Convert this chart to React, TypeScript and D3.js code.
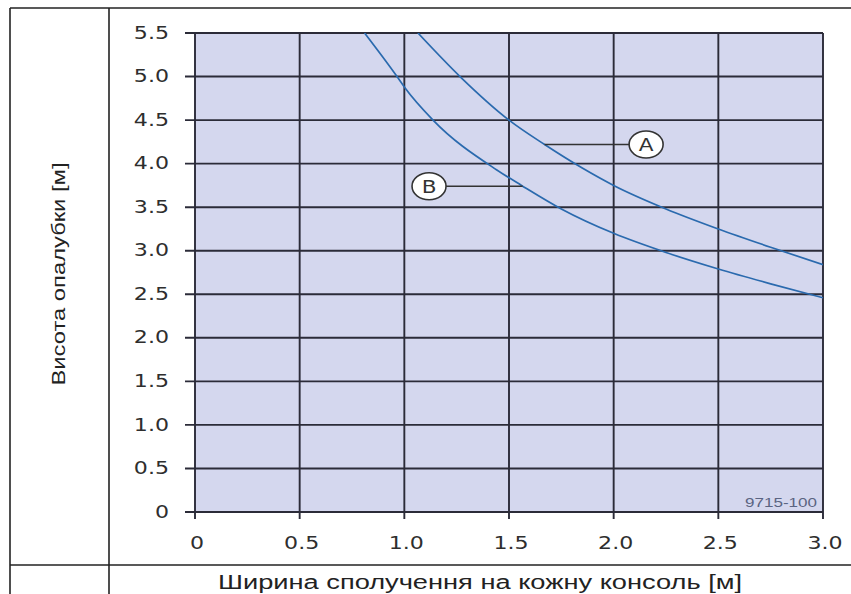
import React from 'react';
import * as d3 from 'd3';

const xTicks = [0, 0.5, 1, 1.5, 2, 2.5, 3];
const xTickLabels = ['0', '0.5', '1.0', '1.5', '2.0', '2.5', '3.0'];
const yTicks = [0, 0.5, 1, 1.5, 2, 2.5, 3, 3.5, 4, 4.5, 5, 5.5];
const yTickLabels = ['0', '0.5', '1.0', '1.5', '2.0', '2.5', '3.0', '3.5', '4.0', '4.5', '5.0', '5.5'];

const curveA: [number, number][] = [
  [1.065, 5.5], [1.266, 5.0], [1.5, 4.5], [1.67, 4.22], [1.85, 3.95], [2.0, 3.75],
  [2.25, 3.48], [2.5, 3.25], [2.75, 3.04], [3.0, 2.84],
];
const curveB: [number, number][] = [
  [0.81, 5.5], [0.965, 5.0], [1.0, 4.88], [1.137, 4.5], [1.44, 3.93], [1.56, 3.75],
  [1.75, 3.48], [2.0, 3.2], [2.25, 2.98], [2.5, 2.79], [2.75, 2.62], [3.0, 2.46],
];

const annotations = [
  { label: 'A', curveX: 1.67, curveY: 4.22, labelX: 2.155, labelY: 4.22 },
  { label: 'B', curveX: 1.565, curveY: 3.74, labelX: 1.118, labelY: 3.74 },
];

const yTitle = 'Висота опалубки [м]';
const xTitle = 'Ширина сполучення на кожну консоль [м]';
const figureCode = '9715-100';

export default function App() {
  const W = 851, H = 594;
  const x = d3.scaleLinear().domain([0, 3]).range([195, 823]);
  const y = d3.scaleLinear().domain([0, 5.5]).range([512, 33]);
  const line = d3.line<[number, number]>().x(d => x(d[0])).y(d => y(d[1])).curve(d3.curveMonotoneX);
  const gridColor = '#2b2b38';
  const textColor = '#2e2e2e';
  const digitFont = '"DejaVu Sans", Verdana, sans-serif';
  const rx = 17, ry = 13.5;

  return (
    <svg width={W} height={H} style={{ position: 'absolute', left: 0, top: 0, background: '#fff' }}>
      <defs>
        <clipPath id="plotClip">
          <rect x={x(0)} y={y(5.5)} width={x(3) - x(0)} height={y(0) - y(5.5)} />
        </clipPath>
      </defs>
      {/* table frame */}
      <g stroke="#222" strokeWidth={1.6}>
        <line x1={10} y1={8} x2={W} y2={8} />
        <line x1={10} y1={8} x2={10} y2={H} />
        <line x1={109} y1={8} x2={109} y2={H} />
        <line x1={10} y1={565} x2={W} y2={565} />
      </g>
      {/* plot background */}
      <rect x={x(0)} y={y(5.5)} width={x(3) - x(0)} height={y(0) - y(5.5)} fill="#d4d7ee" />
      {/* grid lines */}
      <g stroke={gridColor} strokeWidth={1.9}>
        {yTicks.map(t => (
          <line key={'gy' + t} x1={x(0) - 10} x2={x(3)} y1={y(t)} y2={y(t)} />
        ))}
        {xTicks.map(t => (
          <line key={'gx' + t} x1={x(t)} x2={x(t)} y1={y(5.5)} y2={y(0) + 7} />
        ))}
      </g>
      {/* y tick labels */}
      {yTicks.map((t, i) => (
        <text key={'yl' + t} transform={`translate(169,${y(t)}) scale(1.3,1)`} textAnchor="end"
          dominantBaseline="central" fontFamily={digitFont} fontSize={17} fill={textColor}>
          {yTickLabels[i]}
        </text>
      ))}
      {/* x tick labels */}
      {xTicks.map((t, i) => (
        <text key={'xl' + t} transform={`translate(${x(t) + 2},549) scale(1.3,1)`} textAnchor="middle"
          fontFamily={digitFont} fontSize={17} fill={textColor}>
          {xTickLabels[i]}
        </text>
      ))}
      {/* curves */}
      <g clipPath="url(#plotClip)" fill="none" stroke="#2a6aae" strokeWidth={1.7}>
        <path d={line(curveA) || ''} />
        <path d={line(curveB) || ''} />
      </g>
      {/* annotations */}
      {annotations.map(a => {
        const cx = x(a.labelX), cy = y(a.labelY);
        const px = x(a.curveX);
        const edge = px > cx ? cx + rx : cx - rx;
        return (
          <g key={a.label}>
            <line x1={px} x2={edge} y1={y(a.curveY)} y2={y(a.curveY)} stroke="#333" strokeWidth={1.6} />
            <ellipse cx={cx} cy={cy} rx={rx} ry={ry} fill="#fff" stroke="#333" strokeWidth={1.6} />
            <text transform={`translate(${cx},${cy + 0.5}) scale(1.2,1)`} textAnchor="middle" dominantBaseline="central"
              fontFamily={digitFont} fontSize={18} fill="#333">{a.label}</text>
          </g>
        );
      })}
      {/* figure code */}
      <text x={817} y={507} textAnchor="end" fontFamily='"Liberation Sans Narrow", "Liberation Sans", sans-serif'
        fontSize={13} fill="#5a6482" textLength={72} lengthAdjust="spacingAndGlyphs">{figureCode}</text>
      {/* axis titles */}
      <text transform="translate(65,274) rotate(-90)" textAnchor="middle"
        fontFamily='"Liberation Sans Narrow", "Liberation Sans", Arial, sans-serif' fontSize={19} fill="#222"
        textLength={223} lengthAdjust="spacingAndGlyphs">{yTitle}</text>
      <text x={480} y={589} textAnchor="middle"
        fontFamily='"Liberation Sans", Arial, sans-serif' fontSize={20} fill="#222"
        textLength={524} lengthAdjust="spacingAndGlyphs">{xTitle}</text>
    </svg>
  );
}
